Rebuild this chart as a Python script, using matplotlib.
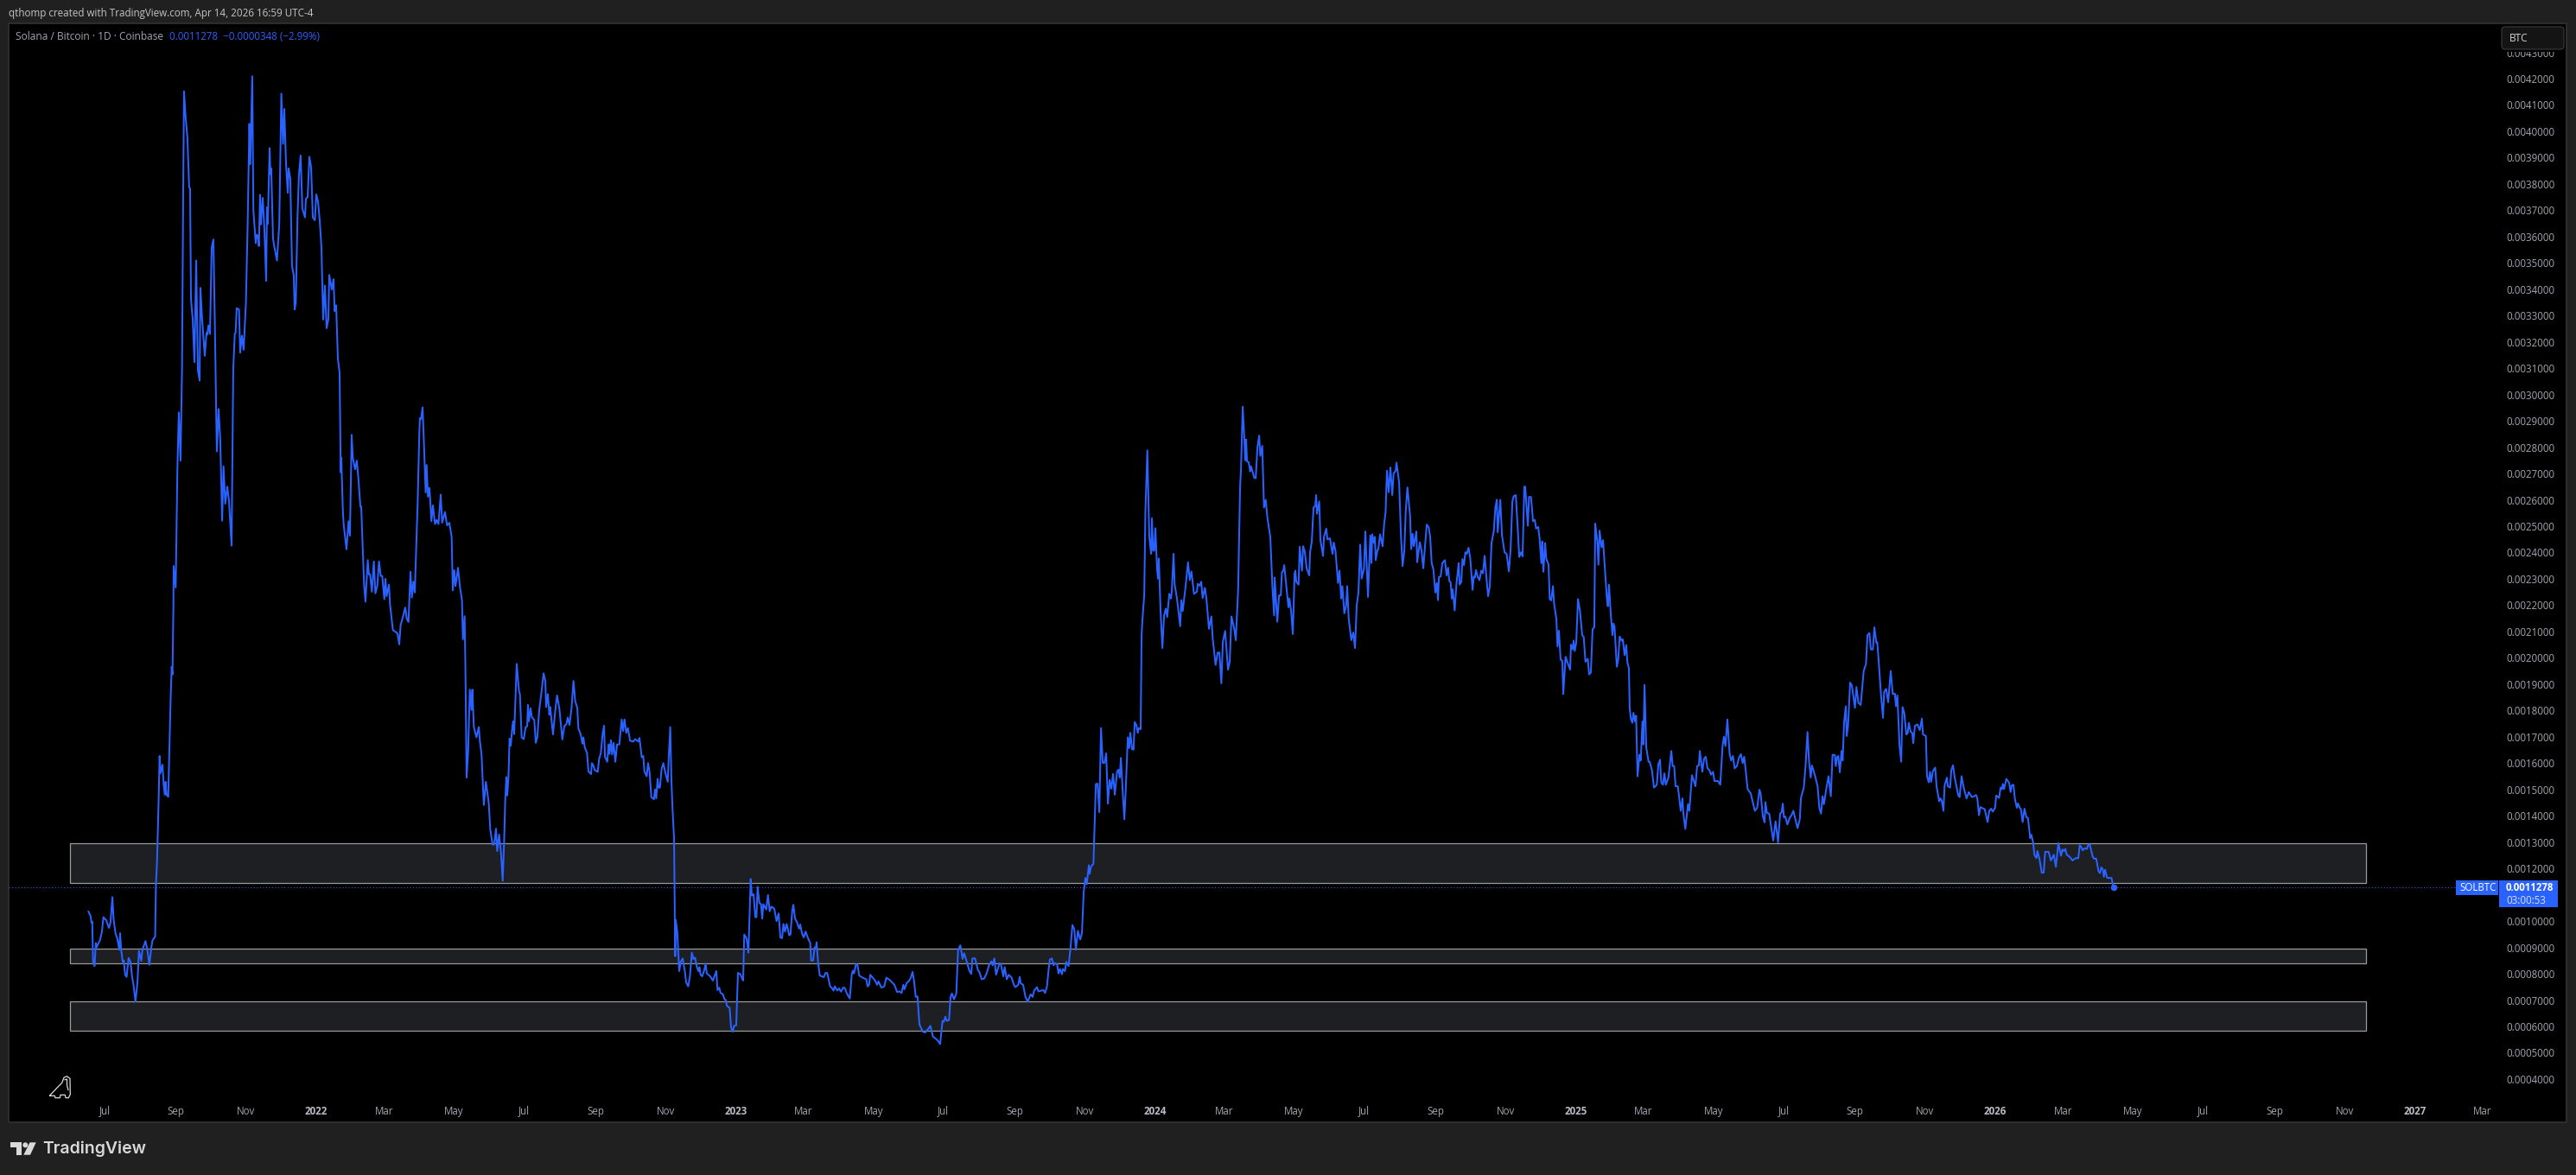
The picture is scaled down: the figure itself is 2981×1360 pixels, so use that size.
"""SOL/BTC daily line chart, TradingView dark layout, with three support boxes."""
import matplotlib
matplotlib.use("Agg")
import matplotlib.dates as mdates
import matplotlib.pyplot as plt
import numpy as np
from matplotlib.patches import Circle, FancyBboxPatch, PathPatch, Polygon, Rectangle
from matplotlib.path import Path
from matplotlib.transforms import Affine2D

# every year: (days since 2021-07-01, price in units of 1e-4 BTC)
year_2021 = [
    (-14, 10.36), (-12.3, 10.20), (-11.3, 9.93), (-10.7, 9.98), (-10, 8.45), (-8.7, 8.29), (-7.6, 9.16), (-7, 9.00),
    (-5, 9.19), (-4, 9.27), (-2.3, 9.60), (-1, 10.15), (0, 10.09), (1.4, 10.04), (3.8, 9.74), (5.1, 9.93),
    (6.8, 10.91), (7.8, 10.09), (9.5, 9.54), (11.1, 9.33), (12.8, 8.91), (13.5, 9.54), (14.5, 8.89), (15.8, 8.45),
    (16.8, 8.50), (17.9, 7.96), (19.2, 7.88), (20.9, 8.60), (22.6, 8.45), (23.9, 7.90), (25.2, 7.57), (26.9, 6.94),
    (28.6, 7.66), (29.9, 8.87), (31.9, 8.49), (33, 8.94), (34.6, 9.11), (35.6, 9.24), (37.3, 8.89), (39, 8.34),
    (40.7, 9.00), (41.7, 9.27), (44, 9.41), (44.7, 11.4), (45.6, 12.17), (46.9, 14.36), (47.9, 16.27), (48.6, 15.62),
    (50.4, 15.94), (51.4, 15.18), (52.4, 14.80), (53.1, 15.29), (53.9, 14.80), (55.4, 14.72), (56.4, 16.55),
    (57.4, 18.30), (58.4, 19.66), (59.1, 19.37), (59.9, 22.02), (60.1, 23.49), (61.9, 22.67), (63.4, 27.27),
    (64.6, 29.32), (66.1, 27.49), (67.4, 30.99), (68.4, 37.55), (69.1, 41.52), (70.6, 40.50), (72.1, 39.74),
    (73.6, 37.88), (74.4, 37.82), (75.2, 33.61), (76.7, 32.85), (78.2, 31.23), (79.7, 35.09), (81.2, 30.93),
    (82.7, 30.53), (83.4, 34.05), (84.9, 32.85), (87.2, 31.47), (88.7, 32.35), (89.4, 32.28), (90.4, 32.63),
    (91.7, 32.30), (93.2, 35.58), (94.7, 35.89), (96.2, 32.08), (97, 29.67), (97.7, 27.84), (99.2, 29.45),
    (100.7, 28.25), (102.3, 25.21), (103.5, 27.27), (105, 25.85), (106.8, 26.50), (108.3, 25.95), (110.5, 24.26),
    (111.5, 28.58), (112, 30.99), (113.3, 32.30), (114, 32.35), (115, 33.28), (117, 33.23), (118, 31.59),
    (119.5, 32.24), (121, 31.70), (123, 33.50), (124.5, 36.46), (126, 40.28), (126.8, 38.75), (128.5, 42.09),
    (129.5, 37.0), (130.5, 36.35), (131.5, 35.75), (132.5, 36.07), (133.5, 36.02), (134.3, 35.64), (135.3, 37.58),
    (136, 36.46), (137.6, 37.47), (139, 36.35), (140.6, 34.32), (141.3, 37.11), (142, 36.48), (143.6, 39.36),
    (144.3, 38.37), (145, 38.59), (146.6, 35.91), (147.6, 35.64), (150, 35.09), (152, 36.46), (153.8, 41.43),
    (155.3, 39.52), (156.4, 40.85), (157.9, 38.75), (159.4, 37.66), (160.1, 38.59), (161.6, 38.21), (163.1, 34.87),
    (164.6, 34.54), (165.4, 33.23), (166.4, 33.50), (167.9, 36.78), (169.1, 38.32), (170.6, 39.08), (172.1, 37.06),
    (174.4, 36.73), (175.2, 37.44), (176.7, 37.50), (178.2, 39.03), (179.7, 38.64), (181.2, 36.73), (183, 36.62),
]
year_2022 = [
    (184.2, 37.60), (185.7, 37.33), (187.2, 36.62), (188.7, 35.58), (190.2, 32.85), (191.7, 34.14), (193.2, 32.52),
    (194.7, 32.85), (195.5, 34.54), (197.7, 33.99), (199.2, 34.38), (200.2, 33.17), (201.5, 33.39), (203, 31.37),
    (204.5, 30.82), (205.5, 27.05), (206, 27.6), (207.3, 25.63), (208, 25.08), (210.5, 24.12), (212.3, 25.19),
    (213.5, 24.64), (215, 28.47), (216, 27.6), (218, 27.16), (219.5, 27.49), (221, 26.72), (222.6, 25.74),
    (223.3, 25.74), (224.8, 23.99), (225.8, 22.78), (227, 22.13), (229, 23.71), (230, 23.17), (231, 23.17),
    (232.6, 22.51), (234.3, 23.66), (235.6, 22.45), (237.3, 22.73), (238.8, 23.66), (240.3, 23.11), (241.6, 23.11),
    (242.4, 22.73), (243.4, 22.23), (244.4, 23.0), (245.4, 22.34), (247.4, 22.78), (248.4, 22.02), (250.9, 21.05),
    (253.4, 20.98), (254.9, 20.92), (256.4, 20.51), (257.6, 21.25), (259.1, 21.47), (261.6, 21.91), (262.9, 21.49),
    (264.4, 21.36), (266.2, 23.27), (267.4, 22.29), (268.7, 22.89), (269.9, 22.48), (271.2, 24.2), (272.4, 25.85),
    (273.9, 28.58), (274.4, 29.10), (275.4, 29.07), (276.7, 29.51), (277.7, 28.36), (279.4, 26.28), (280.2, 27.32),
    (281.4, 26.12), (282.7, 26.45), (284.4, 25.19), (285.7, 25.79), (287.5, 25.08), (289, 25.24), (290.5, 25.08),
    (292.5, 26.2), (293.7, 25.13), (296.2, 25.54), (298, 25.03), (300, 25.13), (302, 24.59), (303, 22.56),
    (304.3, 23.33), (305.3, 22.73), (306.3, 23.0), (307.5, 23.42), (309.3, 22.67), (311, 22.18), (311.8, 20.70),
    (313.3, 21.58), (314, 19.5), (315, 15.45), (316.3, 16.38), (317.8, 18.79), (319.3, 18.02), (320, 18.79),
    (321.3, 17.37), (323.6, 16.98), (325.6, 17.37), (326.6, 16.82), (328, 16.33), (330, 14.41), (331.8, 15.29),
    (334.3, 14.47), (335.6, 13.48), (337.6, 12.91), (339, 12.91), (340.6, 13.51), (341.6, 12.66), (343.3, 13.29),
    (345.1, 12.5), (346.4, 11.53), (347.6, 12.94), (348.6, 14.58), (349.6, 15.47), (350.4, 14.77), (351.4, 15.45),
    (352.4, 16.93), (353.4, 16.66), (354.9, 17.42), (355.6, 17.59), (356.4, 17.1), (358.6, 19.77), (360.6, 18.73),
    (361.4, 18.62), (362.9, 16.98), (364.7, 16.91), (366.4, 17.37), (367.7, 17.4), (368.4, 18.21), (369.2, 17.59),
    (370.7, 18.08), (371.7, 17.75), (373.9, 17.64), (375.2, 16.77), (376.5, 16.98), (378.2, 18.02), (380.2, 18.71),
    (382, 19.41), (383.5, 19.12), (384.2, 18.13), (385.7, 18.62), (387, 17.84), (387.7, 18.13), (390.2, 17.09),
    (392.2, 18.02), (393.7, 18.57), (395.7, 18.08), (398.3, 16.9), (400, 17.4), (401.8, 17.48), (403, 17.73),
    (404.5, 17.45), (406.3, 18.08), (408, 19.12), (409.5, 18.35), (411.3, 18.1), (412.3, 17.31), (414.3, 17.09),
    (415.8, 16.74), (416.6, 16.98), (417.8, 16.6), (419.8, 16.38), (421, 15.69), (423.3, 15.58), (424, 16.0),
    (425.3, 15.91), (426.6, 15.73), (429.1, 15.67), (430.3, 16.16), (431.8, 16.38), (433.3, 17.09), (434.6, 17.42),
    (435.4, 16.24), (437.4, 16.05), (438.6, 16.71), (439.4, 16.35), (440.6, 16.87), (441.6, 16.33), (442.9, 16.77),
    (444.4, 16.05), (445.9, 16.71), (447.9, 16.71), (449.9, 17.66), (451.1, 17.22), (452.4, 17.66), (453.9, 17.15),
    (455.4, 17.33), (457.2, 16.85), (459.9, 16.82), (461.7, 16.91), (464.4, 16.82), (465.4, 16.96), (467.4, 16.22),
    (468.7, 16.27), (469.7, 15.69), (471.7, 15.5), (472.9, 16.0), (474.2, 15.67), (475.7, 14.71), (478, 14.63),
    (479, 15.0), (480, 14.66), (481.2, 15.4), (482, 15.07), (483.2, 15.07), (484.7, 15.78), (486.2, 16.0),
    (488, 15.62), (490, 15.29), (491, 16.33), (492.2, 17.37), (493.2, 15.34), (494.2, 14.25), (495.5, 13.15),
    (496, 10.97), (496.5, 8.67), (497, 10.04), (498.3, 9.6), (500, 8.1), (501.3, 8.45), (503, 8.58), (504.8, 8.12),
    (506, 7.68), (507.8, 7.52), (509.3, 7.9), (511, 8.8), (512.3, 8.56), (513.8, 8.61), (515.5, 8.23), (516.8, 8.1),
    (517.6, 8.25), (518.6, 7.96), (520, 7.9), (521.8, 8.14), (523, 8.38), (524, 8.01), (527, 7.9), (529.3, 7.74),
    (532.3, 8.1), (533.3, 7.38), (534.8, 7.47), (536, 7.27), (538, 7.22), (539.4, 7.03), (540.6, 7.0), (541.4, 6.79),
    (543.9, 6.7), (545.1, 5.96), (546.6, 5.8), (547.6, 6.02),
]
year_2023 = [
    (549.6, 6.04), (551.1, 8.03), (553.1, 7.99), (555.6, 7.74), (556.6, 9.49), (558.7, 9.33), (560.2, 8.8),
    (562.2, 11.6), (563.2, 10.97), (564.7, 11.02), (566.2, 10.15), (567.2, 10.15), (568.2, 11.3), (569.7, 10.69),
    (571.2, 10.64), (572.2, 10.09), (573.2, 10.64), (575.7, 10.44), (577.2, 10.99), (578.7, 10.37), (580.2, 10.55),
    (582.7, 10.47), (584.7, 10.0), (586.5, 10.29), (588, 9.38), (589.5, 9.35), (590.7, 9.89), (592, 9.6),
    (593.5, 9.89), (595.7, 9.46), (596.8, 9.49), (598.3, 10.37), (599.3, 10.62), (600.8, 10.09), (602.3, 9.98),
    (604.3, 9.71), (605.3, 9.87), (606.8, 9.54), (608.3, 9.38), (610, 9.6), (611.8, 9.38), (614, 9.16), (614.8, 8.5),
    (616.5, 8.5), (617.8, 9.0), (618.8, 8.94), (619.5, 9.19), (620.8, 8.45), (622.3, 7.93), (625.8, 7.87),
    (627.3, 8.03), (628.8, 8.03), (631.3, 7.52), (632.6, 7.47), (634.3, 7.36), (635.3, 7.52), (637.6, 7.36),
    (639.1, 7.44), (640.8, 7.32), (642.6, 7.47), (643.9, 7.47), (645.9, 7.25), (648.4, 7.06), (650.1, 7.96),
    (651.1, 8.12), (652.1, 8.01), (653.9, 8.37), (655.1, 8.34), (656.6, 7.93), (659.6, 7.85), (662.7, 7.79),
    (663.9, 7.52), (665.2, 7.58), (666.2, 7.96), (668.4, 7.85), (670.4, 7.74), (672.2, 7.58), (673.4, 7.71),
    (675.9, 7.47), (678.4, 7.52), (680.2, 7.85), (683, 7.77), (685.5, 7.66), (687.2, 7.58), (689.7, 7.3),
    (691.5, 7.33), (693.5, 7.27), (695, 7.58), (696, 7.41), (698, 7.66), (699.7, 7.71), (701.5, 7.85), (703, 8.07),
    (704.3, 7.74), (705.8, 7.12), (707.3, 7.14), (709, 6.07), (712, 5.8), (714, 5.77), (716.8, 5.91), (718.5, 6.02),
    (720.8, 5.61), (723.6, 5.52), (725.3, 5.44), (727, 5.33), (729.1, 6.21), (730.3, 6.18), (731.6, 6.37),
    (732.8, 6.21), (734.8, 6.24), (736.1, 7.12), (737.3, 7.25), (739.1, 7.03), (741.1, 7.25), (742.6, 8.89),
    (744.6, 9.08), (746.6, 8.56), (747.9, 8.78), (749.9, 8.5), (752.4, 8.12), (754.1, 7.99), (755.1, 8.58),
    (757.4, 8.58), (759.9, 8.14), (761.1, 8.07), (763.2, 7.79), (765.4, 7.82), (767.4, 8.01), (769.7, 8.34),
    (771.7, 8.47), (772.7, 8.32), (774.2, 8.58), (775.7, 7.96), (778.7, 8.4), (780, 8.34), (782, 7.9), (783.2, 8.25),
    (785, 7.79), (786.7, 7.96), (789.2, 7.85), (791.2, 7.58), (792.5, 7.49), (795, 7.58), (796.2, 7.88),
    (797.2, 7.63), (799.2, 7.58), (801.3, 7.12), (803.2, 6.94), (805.8, 7.22), (807.5, 7.12), (808.8, 7.36),
    (811.3, 7.49), (812.5, 7.33), (815, 7.36), (816.8, 7.38), (818.3, 7.27), (820, 7.52), (821.3, 8.12),
    (822.5, 8.54), (824.3, 8.58), (825.8, 8.32), (826.8, 8.4), (828.8, 8.36), (830, 8.01), (831.3, 8.18),
    (833.1, 7.98), (833.8, 8.18), (835.6, 8.1), (836.8, 8.45), (838.8, 8.29), (840.6, 9.05), (842.1, 9.85),
    (843.8, 9.68), (845.1, 8.91), (846.9, 9.63), (848.9, 9.3), (850.4, 9.54), (851.9, 11.08), (853.4, 11.64),
    (854.6, 11.4), (856.4, 12.12), (857.1, 11.79), (858.4, 12.08), (860.4, 12.17), (861.2, 13.34), (862.5, 15.2),
    (864, 15.22), (865.5, 14.14), (867, 17.33), (868.5, 16.01), (870, 16.01), (871.5, 16.37), (873, 14.46),
    (874.5, 15.36), (876, 15.03), (877.5, 15.59), (879, 14.8), (881, 15.69), (882.3, 15.75), (883.3, 15.45),
    (884.3, 16.2), (885.8, 14.98), (887.3, 13.87), (888.5, 14.98), (890.3, 16.98), (891.5, 16.57), (892.5, 17.15),
    (894, 16.53), (895.3, 16.51), (896.3, 17.56), (897.8, 17.44), (899, 17.15), (899.8, 17.33), (901.5, 17.29),
    (902.3, 20.84), (903, 21.43), (904.6, 22.37), (905.6, 25.53), (907.3, 27.88), (909, 24.59), (910.6, 23.95),
    (911.3, 25.3), (912.3, 24.07), (913.3, 24.07),
]
year_2024 = [
    (914.3, 24.92), (915.8, 23.36), (916.6, 23.01), (917.3, 23.77), (918.8, 21.78), (920.4, 20.37), (921.9, 21.61),
    (923.4, 21.87), (924.6, 21.55), (926.4, 22.43), (927.9, 22.25), (928.6, 22.54), (930.1, 23.95), (931.1, 22.78),
    (933.1, 22.25), (935.9, 21.2), (936.9, 22.19), (938.1, 21.78), (940.6, 22.72), (942.7, 23.63), (944.2, 22.95),
    (945.7, 23.28), (947.9, 22.43), (950.4, 22.51), (951.2, 22.81), (953, 22.74), (954.2, 22.89), (955.4, 22.27),
    (957.4, 22.66), (958.7, 22.25), (960.9, 21.1), (963, 21.57), (964.2, 20.73), (966.7, 19.73), (968.5, 20.2),
    (970, 20.2), (971.7, 19.03), (973, 20.61), (975, 21.02), (977.5, 19.55), (979, 19.85), (980.5, 21.57),
    (983, 21.08), (984.3, 20.67), (986.3, 22.6), (988, 26.47), (988.8, 27.17), (990.3, 29.54), (991.8, 28.23),
    (992.5, 27.5), (993.3, 28.29), (994, 27.46), (995.5, 27.43), (996.8, 27.08), (997.5, 27.27), (998.8, 27.08),
    (1000.3, 26.84), (1001.6, 26.82), (1003.1, 27.99), (1004.6, 28.44), (1005.6, 27.67), (1007.3, 28.05),
    (1008.8, 25.71), (1010.3, 26.0), (1011.8, 25.3), (1014.3, 24.59), (1016.1, 22.72), (1017.6, 21.61),
    (1018.1, 23.05), (1020.4, 21.37), (1021.9, 22.37), (1023.4, 22.37), (1024.4, 23.25), (1025.6, 23.31),
    (1026.4, 23.52), (1029.4, 22.25), (1030.1, 21.92), (1030.9, 22.25), (1032.4, 21.78), (1033.9, 20.9),
    (1035.4, 23.19), (1036.1, 23.31), (1036.9, 22.89), (1038.9, 22.78), (1039.9, 24.22), (1041.9, 23.31),
    (1042.9, 24.24), (1044.4, 24.01), (1045.9, 23.4), (1048.2, 23.13), (1048.9, 24.01), (1050.4, 24.42),
    (1051.9, 25.71), (1053.4, 25.77), (1054.2, 26.18), (1054.9, 25.47), (1056.9, 25.94), (1057.9, 24.48),
    (1060.2, 23.87), (1061, 24.59), (1063, 24.91), (1064, 24.5), (1066.2, 24.54), (1067.7, 24.13), (1068.5, 23.95),
    (1069.5, 24.38), (1071, 24.07), (1073.2, 22.84), (1074.5, 23.31), (1076, 22.25), (1077, 22.72), (1078.7, 21.69),
    (1080.2, 21.96), (1081.2, 22.72), (1082.5, 21.49), (1084.8, 20.67), (1086.5, 20.96), (1088, 20.37), (1089.5, 22.0),
    (1091, 22.48), (1092.5, 24.3), (1093.8, 23.01), (1095.8, 23.4), (1097, 24.8), (1099.3, 22.31), (1101.3, 24.65),
    (1102.3, 23.6), (1103, 24.69), (1104.6, 24.36), (1105.3, 24.59), (1106, 23.71), (1107.6, 24.1), (1108.3, 24.13),
    (1109.8, 24.69), (1112, 24.24), (1113.3, 25.06), (1114.6, 25.53), (1115.8, 27.11), (1117.3, 26.29),
    (1118.8, 27.23), (1120.4, 26.18), (1121.6, 27.0), (1123.4, 27.11), (1124.1, 27.41), (1126.4, 26.65),
    (1127.9, 24.71), (1129.4, 23.48), (1130.9, 24.07), (1132.1, 25.53), (1133.6, 26.47), (1135.9, 25.41),
    (1136.9, 24.13), (1138.1, 24.71), (1139.1, 24.24), (1141.4, 24.8), (1142.1, 23.63), (1144.4, 24.39),
    (1145.9, 24.07), (1147.4, 23.4), (1150.4, 25.06), (1152.2, 24.95), (1153.4, 24.59), (1154.7, 23.6),
    (1156.2, 23.36), (1157.9, 22.48), (1159.2, 22.84), (1160.2, 22.19), (1161, 23.07), (1162.5, 23.09), (1164, 23.6),
    (1166.2, 23.71), (1167.7, 23.13), (1169, 23.42), (1170, 22.93), (1171.2, 22.86), (1172.2, 22.25), (1173, 22.6),
    (1174.7, 21.8), (1176.2, 22.78), (1178.2, 23.6), (1179, 22.78), (1180.5, 22.89), (1181.5, 23.75), (1182.8, 23.52),
    (1184, 24.01), (1185.3, 23.95), (1186.8, 24.18), (1188.3, 23.77), (1190.3, 22.58), (1191.3, 23.09), (1192.3, 23.05),
    (1193.3, 23.33), (1194.8, 23.07), (1196.3, 22.95), (1197.8, 23.31), (1199.3, 23.21), (1200.8, 23.87),
    (1202.3, 23.07), (1203.8, 22.34), (1205.3, 22.72), (1206.8, 24.36), (1208.8, 24.83), (1210.1, 25.71),
    (1211.4, 26.0), (1212.1, 24.77), (1214.4, 26.0), (1215.9, 24.65), (1218.1, 24.01), (1219.9, 23.95),
    (1221.9, 23.28), (1223.4, 24.13), (1224.9, 25.94), (1226.1, 26.14), (1227.9, 26.18), (1229.4, 25.06),
    (1230.9, 23.83), (1232.4, 24.01), (1233.8, 23.85), (1235.3, 26.5), (1236.1, 26.5), (1238.4, 25.02),
    (1239.4, 26.11), (1241.1, 26.11), (1242.9, 25.19), (1244.4, 25.24), (1245.6, 24.91), (1247.4, 24.97),
    (1248.6, 24.53), (1250.1, 23.6), (1250.9, 24.42), (1251.9, 23.27), (1253.4, 24.36), (1254.4, 23.76),
    (1256.4, 23.54), (1257.4, 22.23), (1258.7, 22.18), (1260.2, 22.72), (1261.2, 22.07), (1263.2, 21.47),
    (1264.2, 20.43), (1265.4, 21.03), (1266.9, 19.93), (1268.4, 19.88), (1269.2, 18.62), (1271.2, 20.04),
    (1272.9, 19.82), (1275.2, 19.55), (1275.9, 20.5), (1277.4, 20.32), (1278.2, 20.65), (1279.2, 20.26),
]
year_2025 = [
    (1280.5, 20.59), (1282, 22.23), (1283.7, 21.79), (1285.7, 20.86), (1287, 20.79), (1288.5, 19.85), (1290.5, 19.96),
    (1291.7, 19.37), (1293.2, 19.44), (1294.7, 21.08), (1296.2, 21.16), (1297, 25.1), (1298.8, 24.42), (1299.8, 23.54),
    (1300.8, 24.83), (1302.5, 24.2), (1303.8, 24.47), (1305.5, 23.33), (1307, 22.34), (1308, 21.96), (1309, 22.78),
    (1310.5, 21.68), (1312, 20.86), (1312.8, 21.3), (1313.8, 21.19), (1315.8, 19.66), (1317, 19.93), (1318.3, 20.81),
    (1320, 20.65), (1321, 20.7), (1322.6, 20.1), (1324, 20.48), (1325, 19.82), (1326.3, 19.61), (1327, 18.07),
    (1328, 17.69), (1329.3, 17.53), (1330.3, 17.91), (1331.6, 17.58), (1332.6, 17.8), (1333.8, 15.5), (1335.6, 16.32),
    (1336.6, 16.1), (1338.1, 17.58), (1338.9, 16.71), (1339.9, 18.97), (1341.4, 16.6), (1343.4, 16.05), (1344.4, 16.05),
    (1346.4, 15.72), (1348.1, 15.07), (1350.6, 15.18), (1351.9, 15.94), (1353.4, 16.13), (1354.4, 15.28), (1355.9, 15.18),
    (1357.2, 15.61), (1358.4, 15.18), (1360.7, 15.45), (1363.2, 16.46), (1364.4, 15.89), (1365.7, 15.89), (1366.9, 15.12),
    (1368.9, 15.12), (1371.4, 14.19), (1372.9, 14.66), (1373.7, 14.08), (1375.4, 13.5), (1377.7, 14.44), (1378.9, 14.19),
    (1381.2, 15.54), (1382.7, 15.34), (1384.2, 15.12), (1385.7, 15.89), (1387.2, 15.91), (1388, 16.46), (1390.2, 15.67),
    (1391.7, 16.16), (1393.2, 16.24), (1394.7, 15.8), (1396.5, 15.72), (1397.8, 15.56), (1399.5, 15.67), (1400.8, 15.32),
    (1403.8, 15.32), (1405.8, 15.18), (1407.8, 16.65), (1409, 17.0), (1410.3, 16.65), (1412, 17.66), (1414, 16.32),
    (1415.3, 16.1), (1416.8, 16.27), (1418.3, 15.8), (1420.3, 15.89), (1422.1, 16.21), (1423.8, 16.34), (1425.3, 16.0),
    (1426.6, 16.24), (1427.8, 15.78), (1429.6, 15.01), (1432.3, 14.85), (1433.8, 14.57), (1435.9, 14.19), (1437.9, 14.3),
    (1439.9, 14.99), (1440.9, 14.85), (1442.9, 13.97), (1444.4, 13.75), (1445.1, 14.52), (1446.4, 14.11), (1448.4, 14.08),
    (1450.4, 13.48), (1451.9, 13.06), (1453.9, 13.79), (1456.1, 12.99), (1457.9, 14.08), (1459.2, 14.14), (1460.2, 14.46),
    (1461.2, 13.94), (1462.4, 13.97), (1464.2, 13.67), (1466.2, 13.92), (1467.9, 14.03), (1469.4, 14.19), (1473, 13.53),
    (1475, 13.86), (1476, 14.68), (1478.5, 15.07), (1480, 15.89), (1481.7, 17.18), (1483, 16.1), (1484.5, 15.45),
    (1485.5, 15.91), (1486.7, 15.75), (1488, 15.56), (1490.5, 15.12), (1492, 14.3), (1493.5, 14.08), (1494.8, 14.74),
    (1496, 14.44), (1498, 15.01), (1500, 15.5), (1502, 14.74), (1503.5, 16.32), (1505.5, 16.3), (1506.3, 15.89),
    (1507.5, 16.24), (1508.5, 16.27), (1509.8, 15.65), (1511.3, 16.46), (1512.3, 16.1), (1513.5, 17.53), (1515, 18.16),
    (1515.8, 17.03), (1517, 17.42), (1518.8, 19.06), (1520.3, 18.95), (1523, 18.1), (1524.3, 18.89), (1526, 18.29),
    (1528, 18.21), (1530.6, 19.5), (1532.6, 19.77), (1533.9, 20.86), (1535.6, 20.94), (1536.8, 20.32), (1538.6, 20.32),
    (1539.9, 21.16), (1541.6, 20.57), (1542.4, 20.59), (1543.9, 19.72), (1545.6, 18.62), (1547.4, 17.72), (1548.4, 18.71),
    (1550.1, 18.82), (1551.9, 18.31), (1554.1, 19.5), (1555.9, 18.62), (1557.7, 18.64), (1558.7, 18.16), (1559.9, 18.57),
    (1561.7, 16.71), (1563.2, 16.05), (1564.4, 18.13), (1565.9, 17.91), (1567.7, 17.09), (1568.9, 17.14), (1569.9, 17.53),
    (1571.4, 17.2), (1572.9, 17.14), (1573.7, 16.76), (1575.2, 17.42), (1577.4, 17.47), (1579.4, 17.25), (1581.2, 17.69),
    (1582.2, 17.09), (1584.7, 17.03), (1585.7, 15.5), (1587.2, 15.27), (1588.3, 15.67), (1589.3, 15.29), (1590.8, 15.69),
    (1592.8, 15.83), (1594, 15.12), (1596.3, 14.55), (1597.3, 14.66), (1598.5, 14.58), (1600, 14.19), (1601, 15.15),
    (1603, 15.45), (1603.8, 15.12), (1605.8, 15.07), (1606.8, 15.73), (1608.3, 15.92), (1609.8, 15.45), (1612.8, 14.79),
    (1614, 14.71), (1615.8, 15.5), (1617.6, 15.07), (1620.1, 14.66), (1622.1, 14.9), (1624.6, 14.71), (1626.6, 14.74),
    (1628.4, 14.79), (1629.4, 14.68), (1630.9, 14.02), (1632.1, 14.33), (1635.9, 14.25), (1638.4, 13.76), (1639.9, 14.19),
    (1641.4, 14.27), (1642.9, 14.16), (1644.9, 14.3),
]
year_2026 = [
    (1645.9, 14.77), (1648.4, 14.68), (1649.7, 15.07), (1650.9, 15.01), (1651.7, 15.21), (1652.7, 15.01), (1654.7, 15.4),
    (1657.2, 15.25), (1658.4, 14.9), (1659.4, 15.15), (1660.9, 15.18), (1662.2, 14.63), (1663.9, 14.3), (1664.7, 14.47),
    (1666.4, 14.3), (1667.4, 14.25), (1668.9, 13.76), (1670.5, 14.27), (1672.2, 13.94), (1673.5, 13.92), (1675.5, 13.15),
    (1676.5, 13.28), (1678, 12.99), (1679.2, 12.5), (1681, 12.39), (1681.7, 12.66), (1683.5, 12.37), (1685.5, 11.84),
    (1687.2, 11.84), (1688.5, 12.63), (1691.5, 12.63), (1693.5, 12.3), (1696, 12.52), (1697.8, 12.06), (1700, 12.96),
    (1702.3, 12.48), (1703.5, 12.72), (1704.8, 12.66), (1706, 12.74), (1707.3, 12.52), (1709.8, 12.44), (1712.3, 12.3),
    (1714.8, 12.39), (1717.3, 12.39), (1718.6, 12.88), (1719.8, 12.82), (1721.1, 12.69), (1723.1, 12.77), (1724.8, 12.74),
    (1726.1, 12.91), (1727.3, 12.91), (1729.9, 12.44), (1731.1, 12.37), (1732.9, 12.37), (1734.9, 11.9), (1736.1, 11.82),
    (1737.4, 12.04), (1738.6, 11.97), (1739.6, 11.68), (1740.6, 11.95), (1742.4, 11.64), (1746.2, 11.64), (1748, 11.278),
]

# support boxes: (low, high) in BTC, all sharing the same date span
box_ranges = [(0.001144, 0.001296), (0.000839, 0.000894), (0.000583, 0.000695)]
box_start, box_end = "2021-06-01", "2026-11-20"
last_price = 0.0011278

# 0.0011 sits behind the last price tag, so it gets no label
y_ticks = [round(0.0001 * i, 4) for i in range(4, 44) if i != 11]
x_months = ["2021-07", "2021-09", "2021-11", "2022-01", "2022-03", "2022-05", "2022-07", "2022-09", "2022-11",
            "2023-01", "2023-03", "2023-05", "2023-07", "2023-09", "2023-11", "2024-01", "2024-03", "2024-05",
            "2024-07", "2024-09", "2024-11", "2025-01", "2025-03", "2025-05", "2025-07", "2025-09", "2025-11",
            "2026-01", "2026-03", "2026-05", "2026-07", "2026-09", "2026-11", "2027-01", "2027-03"]
x_labels = ["Jul", "Sep", "Nov", "2022", "Mar", "May", "Jul", "Sep", "Nov",
            "2023", "Mar", "May", "Jul", "Sep", "Nov", "2024", "Mar", "May",
            "Jul", "Sep", "Nov", "2025", "Mar", "May", "Jul", "Sep", "Nov",
            "2026", "Mar", "May", "Jul", "Sep", "Nov", "2027", "Mar"]

W, H = 2981, 1360
BG = "#202020"
BLUE = "#2962ff"
plt.rcParams["font.family"] = ["Open Sans", "DejaVu Sans"]

fig = plt.figure(figsize=(W / 100, H / 100), dpi=100, facecolor=BG)
# same pixel space as the screenshot, for the frame furniture round the chart
px = Affine2D().scale(1 / W, -1 / H).translate(0, 1) + fig.transFigure

ax = fig.add_axes([10 / W, 1 - 1299 / H, 2960 / W, 1272 / H], facecolor="black")
for s in ax.spines.values():
    s.set_color("#2e2e2e")
    s.set_linewidth(1.4)

t0 = mdates.date2num(np.datetime64("2021-07-01"))
pts = np.array(year_2021 + year_2022 + year_2023 + year_2024 + year_2025 + year_2026)
dates = t0 + pts[:, 0]
prices = pts[:, 1] * 1e-4

box_x0 = mdates.date2num(np.datetime64(box_start))
box_x1 = mdates.date2num(np.datetime64(box_end))
for lo, hi in box_ranges:
    ax.add_patch(Rectangle((box_x0, lo), box_x1 - box_x0, hi - lo, facecolor="#1e1f22",
                           edgecolor="#9a9a9a", linewidth=0.9, zorder=2))

ax.axhline(last_price, xmax=0.9568, color=BLUE, linewidth=0.75, linestyle=(0, (1, 2.4)), zorder=3)
ax.plot(dates, prices, color=BLUE, linewidth=1.45, solid_joinstyle="round", zorder=4)
ax.plot(dates[-1], prices[-1], "o", color=BLUE, markersize=4.4, zorder=5)

ax.set_xlim(t0 - 83.46, t0 + 2142.1)
ax.set_ylim(0.0002357, 0.00441)

ax.yaxis.tick_right()
ax.set_yticks(y_ticks)
ax.set_yticklabels([f"{v:.7f}" for v in y_ticks], fontsize=8.3, color="#a3a6af")
ax.tick_params(axis="y", length=0, pad=-50.4)
ax.set_xticks([mdates.date2num(np.datetime64(m + "-01")) for m in x_months])
ax.set_xticklabels(x_labels, fontsize=8.3, color="#a3a6af")
ax.tick_params(axis="x", length=0, pad=-14)
for lab in ax.get_xticklabels():
    if lab.get_text().isdigit():
        lab.set_color("#b9bcc4")
        lab.set_fontweight("bold")

# header lines
fig.text(10 / W, 1 - 15 / H, "qthomp created with TradingView.com, Apr 14, 2026 16:59 UTC-4",
         fontsize=8.4, color="#c4c4c4", va="center")
fig.text(18 / W, 1 - 42 / H, "Solana / Bitcoin · 1D · Coinbase", fontsize=8.6, color="#a3a6af", va="center")
fig.text(196 / W, 1 - 42 / H, "0.0011278  −0.0000348 (−2.99%)", fontsize=8.3, color=BLUE, va="center")

# price scale button, with the black margin that cuts the top tick label, and last price tags
fig.add_artist(Rectangle((2893, 28), 76, 31.5, transform=px, facecolor="black", edgecolor="none", zorder=5))
fig.add_artist(FancyBboxPatch((2895, 31), 72, 26, boxstyle="round,pad=0,rounding_size=4", transform=px,
                              facecolor="#141414", edgecolor="#363636", linewidth=0.9, zorder=6))
fig.text(2904 / W, 1 - 44.5 / H, "BTC", fontsize=8.6, color="#d4d4d4", va="center", zorder=7)
fig.add_artist(Rectangle((2842, 1019), 49, 17, transform=px, facecolor=BLUE, edgecolor="none", zorder=6))
fig.add_artist(Rectangle((2892, 1019), 68, 31, transform=px, facecolor=BLUE, edgecolor="none", zorder=6))
fig.text(2846 / W, 1 - 1027.5 / H, "SOLBTC", fontsize=8.3, color="white", va="center", zorder=7)
fig.text(2900 / W, 1 - 1027.5 / H, "0.0011278", fontsize=8.3, color="white", fontweight="bold", va="center", zorder=7)
fig.text(2900 / W, 1 - 1042 / H, "03:00:53", fontsize=8.3, color="#d8e2ff", va="center", zorder=7)

# dino outline bottom left of the chart
dino = [(57.3, 1268.3), (68.3, 1256.7), (71.7, 1253.3), (74, 1247.3), (77.3, 1245.7), (81, 1248.3), (81.3, 1266.7),
        (79.3, 1270.7), (76, 1270.7), (75.3, 1267.3), (70, 1267.3), (69.3, 1270.7), (64, 1270.7), (63.3, 1268.3),
        (57.3, 1268.3)]
neck = [(74.5, 1250), (77.5, 1249), (77.5, 1256), (79, 1262)]
for outline in (dino, neck):
    fig.add_artist(PathPatch(Path(outline), transform=px, facecolor="none", edgecolor="#dcdcdc",
                             linewidth=0.9, zorder=6))

# TradingView logo in the footer
LOGO = "#d9d9d9"
fig.add_artist(Polygon([(12, 1322.3), (25, 1322.3), (25, 1336.7), (19.3, 1336.7), (19.3, 1328.3), (12, 1328.3)],
                       transform=px, facecolor=LOGO, edgecolor="none", zorder=6))
fig.add_artist(Circle((29.3, 1325.3), 3, transform=px, facecolor=LOGO, edgecolor="none", zorder=6))
fig.add_artist(Polygon([(34.5, 1322.3), (41.7, 1322.3), (35, 1336.7), (27.3, 1336.7)],
                       transform=px, facecolor=LOGO, edgecolor="none", zorder=6))
fig.text(49 / W, 1 - 1330 / H, "TradingView", fontsize=14, fontfamily="Inter", fontweight="semibold",
         color=LOGO, va="center")

fig.savefig("out.png", dpi=100, facecolor=BG)
